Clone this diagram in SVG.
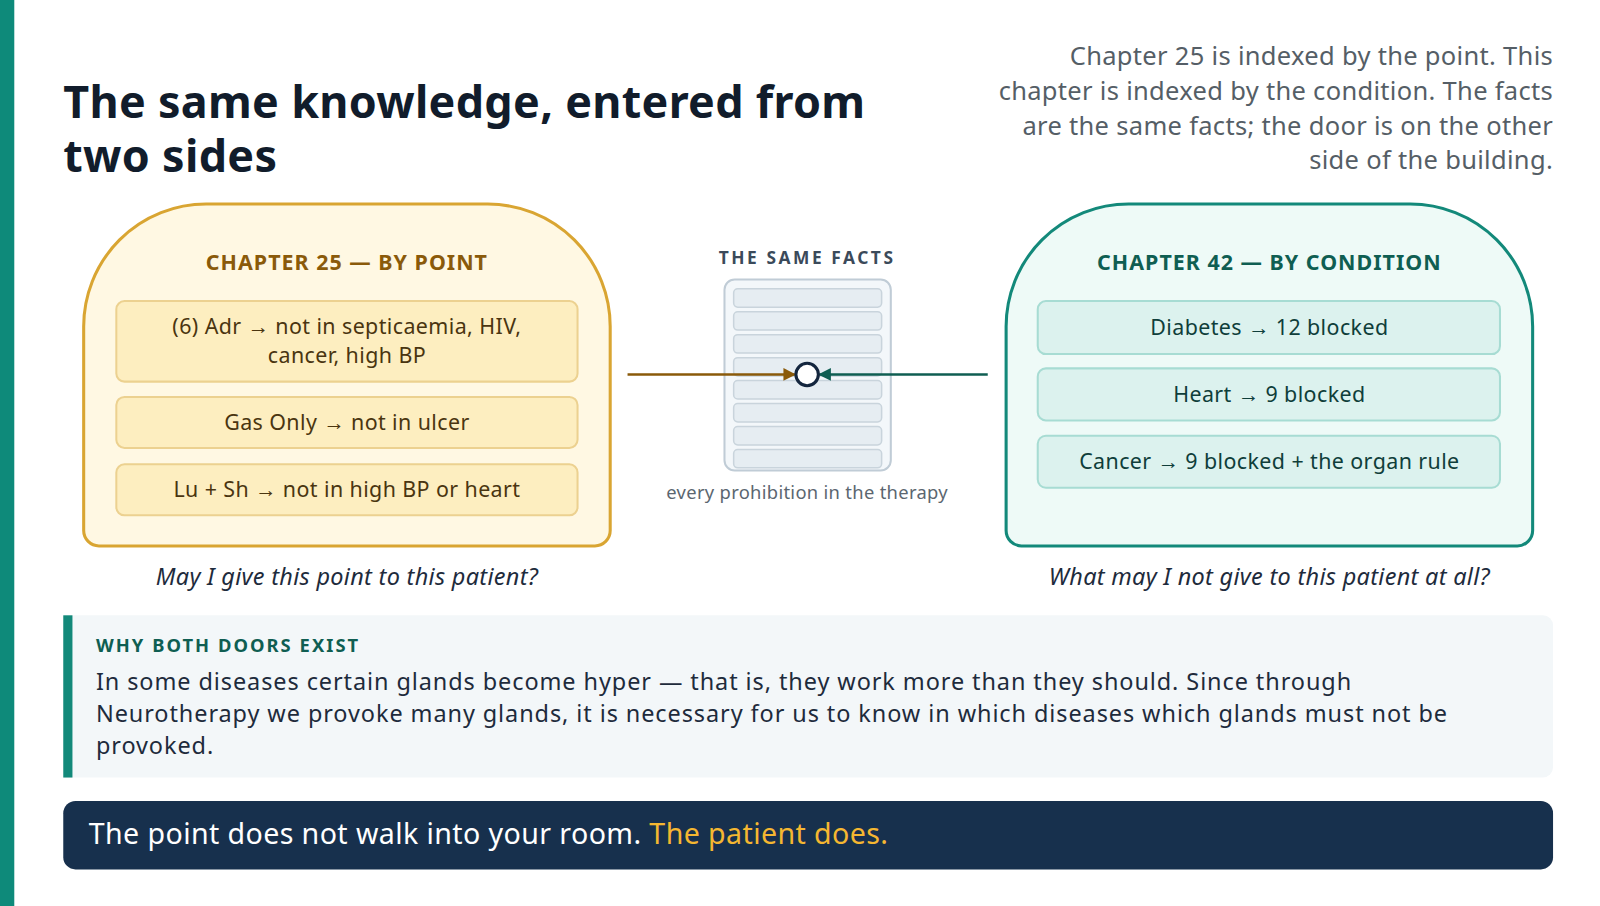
<svg xmlns="http://www.w3.org/2000/svg" width="1600" height="906" viewBox="0 0 1600 906">
<style>
text{font-family:"Noto Sans","Open Sans",sans-serif}
.hd{font-weight:700;font-size:21px;letter-spacing:1px;text-anchor:middle}
.li{font-size:21px;text-anchor:middle;fill:#4a3510;letter-spacing:0.4px}
.ri{font-size:21px;text-anchor:middle;fill:#0f3e3a;letter-spacing:0.4px}
.lit{fill:#fdeec0;stroke:#ecd190;stroke-width:2}
.rit{fill:#dcf2ee;stroke:#a7dcd3;stroke-width:2}
.cap{font-size:23px;font-style:italic;text-anchor:middle;fill:#1e2b3c;letter-spacing:0.3px}
.row{fill:#e6edf2;stroke:#c9d4dc;stroke-width:1.5}
.par{font-size:23px;fill:#1e2b3c;letter-spacing:0.9px}
.sub{font-size:25px;fill:#555e66;text-anchor:end;letter-spacing:0.3px}
</style>
<defs>
<marker id="ab" viewBox="0 0 10 10" refX="9" refY="5" markerWidth="5" markerHeight="5" orient="auto"><path d="M0,0L10,5L0,10z" fill="#8a5a0a"/></marker>
<marker id="at" viewBox="0 0 10 10" refX="9" refY="5" markerWidth="5" markerHeight="5" orient="auto"><path d="M0,0L10,5L0,10z" fill="#0f5e52"/></marker>
</defs>
<rect width="1600" height="906" fill="#fff"/>
<g transform="scale(1.0204)">
<rect x="0" y="0" width="14" height="900" fill="#0e8a7a"/>
<g id="title">
<text x="62" y="116" font-size="44" font-weight="700" letter-spacing="0.3" fill="#111c2b">The same knowledge, entered from</text>
<text x="62" y="169" font-size="44" font-weight="700" letter-spacing="0.3" fill="#111c2b">two sides</text>
</g>
<g id="subtitle">
<text class="sub" x="1522" y="64">Chapter 25 is indexed by the point. This</text>
<text class="sub" x="1522" y="98">chapter is indexed by the condition. The facts</text>
<text class="sub" x="1522" y="132">are the same facts; the door is on the other</text>
<text class="sub" x="1522" y="166">side of the building.</text>
</g>
<g id="chapter25">
<path d="M82,520V320A120,120 0 0 1 202,200H478A120,120 0 0 1 598,320V520A15,15 0 0 1 583,535H97A15,15 0 0 1 82,520Z" fill="#fff8e3" stroke="#d9a532" stroke-width="3"/>
<text class="hd" x="340" y="265" fill="#8a5a0a">CHAPTER 25 — BY POINT</text>
<rect class="lit" x="114" y="295" width="452" height="79" rx="8"/>
<text class="li" x="340" y="327">(6) Adr → not in septicaemia, HIV,</text>
<text class="li" x="340" y="356">cancer, high BP</text>
<rect class="lit" x="114" y="389" width="452" height="50" rx="8"/>
<text class="li" x="340" y="421">Gas Only → not in ulcer</text>
<rect class="lit" x="114" y="455" width="452" height="50" rx="8"/>
<text class="li" x="340" y="487">Lu + Sh → not in high BP or heart</text>
<text class="cap" x="340" y="573">May I give this point to this patient?</text>
</g>
<g id="facts">
<text x="791" y="259" font-size="17" font-weight="700" letter-spacing="2.5" fill="#3b4a5a" text-anchor="middle">THE SAME FACTS</text>
<rect x="710" y="274" width="163" height="187" rx="10" fill="#f3f7fa" stroke="#c0ccd6" stroke-width="2"/>
<rect class="row" x="719" y="283" width="145" height="18" rx="4"/>
<rect class="row" x="719" y="305.5" width="145" height="18" rx="4"/>
<rect class="row" x="719" y="328" width="145" height="18" rx="4"/>
<rect class="row" x="719" y="350.5" width="145" height="18" rx="4"/>
<rect class="row" x="719" y="373" width="145" height="18" rx="4"/>
<rect class="row" x="719" y="395.5" width="145" height="18" rx="4"/>
<rect class="row" x="719" y="418" width="145" height="18" rx="4"/>
<rect class="row" x="719" y="440.5" width="145" height="18" rx="4"/>
<text x="791" y="489" font-size="18" fill="#5b6670" text-anchor="middle" letter-spacing="0.3">every prohibition in the therapy</text>
</g>
<g id="connectors">
<line x1="615" y1="367" x2="779" y2="367" stroke="#8a5a0a" stroke-width="2.5" marker-end="url(#ab)"/>
<line x1="968" y1="367" x2="803" y2="367" stroke="#0f5e52" stroke-width="2.5" marker-end="url(#at)"/>
<circle cx="791" cy="367" r="11" fill="#fff" stroke="#14263e" stroke-width="3"/>
</g>
<g id="chapter42">
<path d="M986,520V320A120,120 0 0 1 1106,200H1382A120,120 0 0 1 1502,320V520A15,15 0 0 1 1487,535H1001A15,15 0 0 1 986,520Z" fill="#eefaf7" stroke="#13897a" stroke-width="3"/>
<text class="hd" x="1244" y="265" fill="#0f5e52">CHAPTER 42 — BY CONDITION</text>
<rect class="rit" x="1017" y="295" width="453" height="52" rx="8"/>
<text class="ri" x="1244" y="328">Diabetes → 12 blocked</text>
<rect class="rit" x="1017" y="361" width="453" height="51" rx="8"/>
<text class="ri" x="1244" y="394">Heart → 9 blocked</text>
<rect class="rit" x="1017" y="427" width="453" height="51" rx="8"/>
<text class="ri" x="1244" y="460">Cancer → 9 blocked + the organ rule</text>
<text class="cap" x="1244" y="573">What may I not give to this patient at all?</text>
</g>
<g id="why">
<rect x="62" y="603" width="1460" height="159" rx="10" fill="#f3f7f9"/>
<rect x="62" y="603" width="9" height="159" fill="#13897a"/>
<text x="94" y="639" font-size="18" font-weight="700" letter-spacing="2" fill="#0f5e52">WHY BOTH DOORS EXIST</text>
<text class="par" x="94" y="676">In some diseases certain glands become hyper — that is, they work more than they should. Since through</text>
<text class="par" x="94" y="708">Neurotherapy we provoke many glands, it is necessary for us to know in which diseases which glands must not be</text>
<text class="par" x="94" y="739">provoked.</text>
</g>
<g id="banner">
<rect x="62" y="785" width="1460" height="67" rx="12" fill="#17304d"/>
<text x="87" y="827" font-size="28" fill="#fff" letter-spacing="0.4">The point does not walk into your room. <tspan fill="#f5b731">The patient does.</tspan></text>
</g>
</g>
</svg>
